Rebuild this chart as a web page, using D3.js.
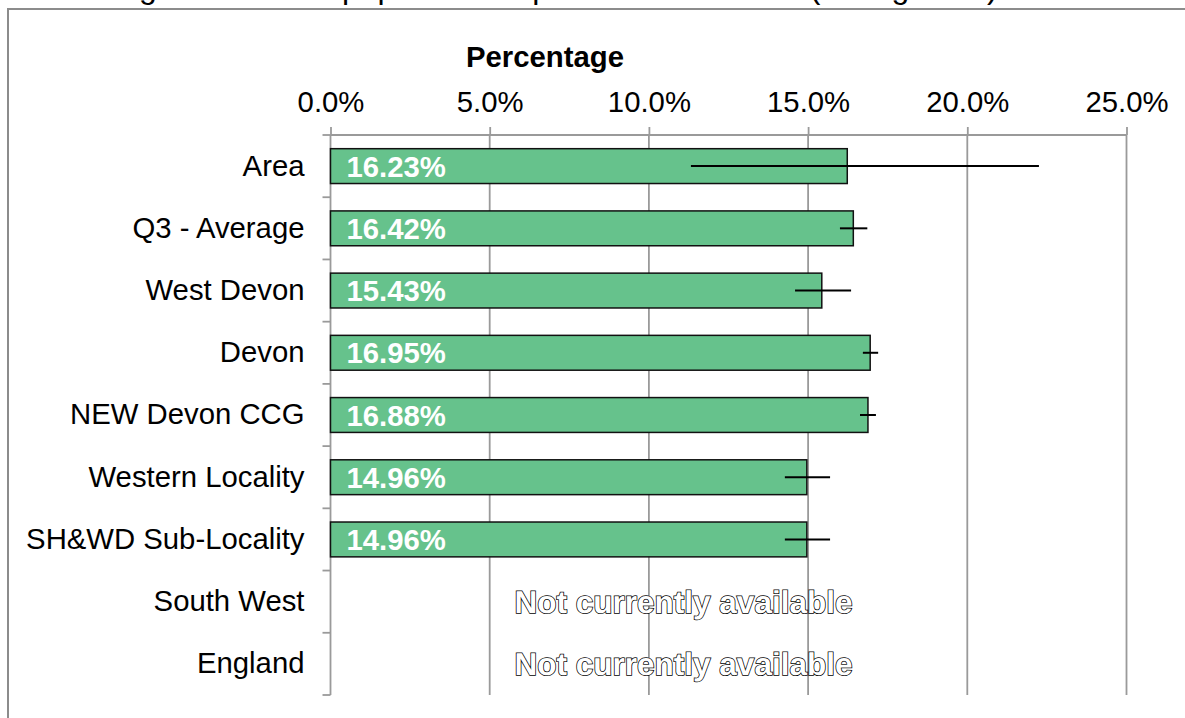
<!DOCTYPE html>
<html><head><meta charset="utf-8">
<script src="https://cdn.jsdelivr.net/npm/d3@7/dist/d3.min.js"></script>
<style>
html,body{margin:0;padding:0;background:#fff;overflow:hidden}
text{font-family:"Liberation Sans",Arial,sans-serif}
</style></head><body>
<svg id="c" width="1185" height="718"></svg>
<script>
const categories = ["Area","Q3 - Average","West Devon","Devon","NEW Devon CCG","Western Locality","SH&WD Sub-Locality","South West","England"];
const values = [16.23,16.42,15.43,16.95,16.88,14.96,14.96,null,null];
const lowerCI = [11.32,16.00,14.59,16.72,16.63,14.27,14.27,null,null];
const upperCI = [22.25,16.86,16.35,17.20,17.13,15.69,15.69,null,null];
const xTicks = [0,5,10,15,20,25];
const titleText = "Percentage of the total population in private households (during 2011)";
const axisTitle = "Percentage";
const naText = "Not currently available";

(function(){
const svg = d3.select("#c");
const W=1185,H=718;
const pL=330.5,pR=1126.5,pT=135,pB=695;
const FS=29.3;
const FF="'Liberation Sans',Arial,sans-serif";

// frame
svg.append("rect").attr("x",8).attr("y",9).attr("width",W+20).attr("height",H+20)
  .attr("fill","none").attr("stroke","#8c8c8c").attr("stroke-width",2);

// cut-off title
svg.append("text").attr("x",11).attr("y",-2).attr("font-size",32).attr("fill","#000").text(titleText);

const x = d3.scaleLinear().domain([0,25]).range([pL,pR]);
const y = d3.scaleBand().domain(categories).range([pT,pB]).paddingInner(0.44).paddingOuter(0.22);
const yb = d3.scaleBand().domain(categories).range([pT,pB]);

// gridlines
svg.append("g").selectAll("line").data(xTicks.slice(1)).join("line")
  .attr("x1",d=>x(d)).attr("x2",d=>x(d)).attr("y1",pT).attr("y2",pB)
  .attr("stroke","#9a9a9a").attr("stroke-width",1.8);

// top axis
const xAxis = d3.axisTop(x).tickValues(xTicks).tickSize(8).tickPadding(15.5)
  .tickFormat(d=>d3.format(".1f")(d)+"%");
const gx = svg.append("g").attr("transform",`translate(0,${pT})`).call(xAxis);
gx.select(".domain").attr("stroke","#9a9a9a").attr("stroke-width",1.8).attr("d",`M${pL},0H${pR}`);
gx.selectAll(".tick line").attr("stroke","#9a9a9a").attr("stroke-width",1.8);
gx.selectAll(".tick text").attr("font-size",FS).attr("fill","#000").attr("font-family",FF);

// left axis
const yAxis = d3.axisLeft(yb).tickSize(0).tickPadding(26);
const gy = svg.append("g").attr("transform",`translate(${pL},0)`).call(yAxis);
gy.select(".domain").attr("stroke","#9a9a9a").attr("stroke-width",1.8).attr("d",`M0,${pT}V${pB}`);
gy.selectAll(".tick text").attr("font-size",FS).attr("fill","#000").attr("font-family",FF);
// boundary ticks
const bounds = categories.map(c=>yb(c)).concat([pB]);
svg.append("g").selectAll("line").data(bounds).join("line")
  .attr("x1",pL-8).attr("x2",pL).attr("y1",d=>d).attr("y2",d=>d)
  .attr("stroke","#9a9a9a").attr("stroke-width",1.8);

// axis title
svg.append("text").attr("x",545).attr("y",67).attr("text-anchor","middle")
  .attr("font-size",FS).attr("font-weight","bold").text(axisTitle);

const data = categories.map((c,i)=>({c,v:values[i],lo:lowerCI[i],hi:upperCI[i]}));
const withV = data.filter(d=>d.v!=null);

// bars
svg.append("g").selectAll("rect").data(withV).join("rect")
  .attr("x",x(0)).attr("y",d=>y(d.c)).attr("width",d=>x(d.v)-x(0)).attr("height",y.bandwidth())
  .attr("fill","#66c28c").attr("stroke","#111").attr("stroke-width",1.5);

// error bars
svg.append("g").selectAll("line").data(withV).join("line")
  .attr("x1",d=>x(d.lo)).attr("x2",d=>x(d.hi))
  .attr("y1",d=>yb(d.c)+yb.bandwidth()/2).attr("y2",d=>yb(d.c)+yb.bandwidth()/2)
  .attr("stroke","#000").attr("stroke-width",2);

// value labels
svg.append("g").selectAll("text").data(withV).join("text")
  .attr("x",x(0)+16).attr("y",d=>yb(d.c)+yb.bandwidth()/2+10.5)
  .attr("font-size",FS).attr("font-weight","bold").attr("fill","#fff")
  .text(d=>d3.format(".2f")(d.v)+"%");

// not available labels
svg.append("g").selectAll("text").data(data.filter(d=>d.v==null)).join("text")
  .attr("x",683.5).attr("y",d=>yb(d.c)+yb.bandwidth()/2+11).attr("text-anchor","middle")
  .attr("font-size",31.5).attr("font-weight","bold").attr("fill","#fff")
  .attr("stroke","#000").attr("stroke-width",1.5).attr("paint-order","stroke")
  .style("text-rendering","geometricPrecision")
  .text(naText);
})();
</script></body></html>
